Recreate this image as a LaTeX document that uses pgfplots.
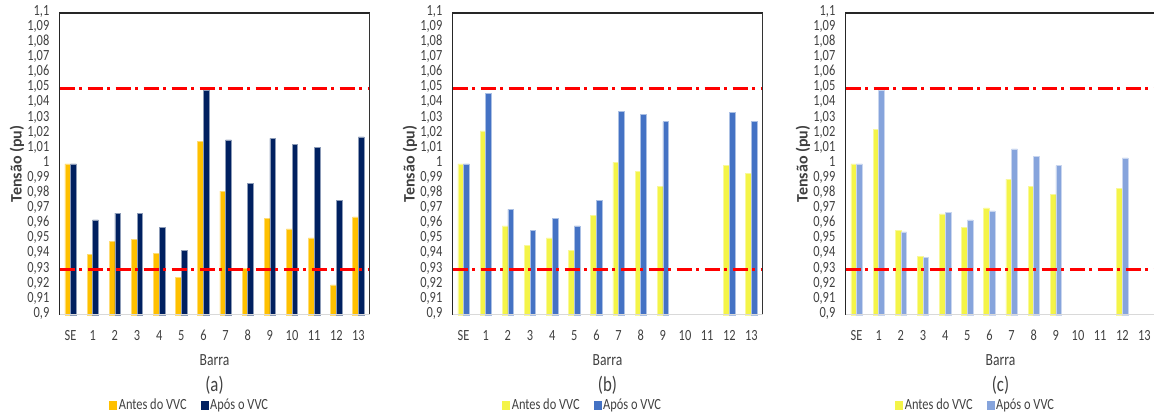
\documentclass[border=0pt]{standalone}
\usepackage{pgfplots}
\pgfplotsset{compat=1.18}
\usepackage{fontspec}
\setmainfont{Carlito}[FakeStretch=0.8]
\newfontfamily\ylabfont{Carlito}

\definecolor{txt}{HTML}{404040}
\definecolor{antesA}{HTML}{FFC000}
\definecolor{aposA}{HTML}{002060}
\definecolor{antesB}{HTML}{F4F448}
\definecolor{aposB}{HTML}{4472C4}
\definecolor{aposC}{HTML}{86A4DC}
\definecolor{limred}{HTML}{FF0000}

\pgfplotsset{
  vvcpanel/.style={
    scale only axis, width=310pt, height=302pt,
    xmin=-0.5, xmax=13.5, ymin=0.9, ymax=1.1,
    xtick={0,...,13}, xticklabels={SE,1,2,3,4,5,6,7,8,9,10,11,12,13},
    ytick={0.90,0.91,0.92,0.93,0.94,0.95,0.96,0.97,0.98,0.99,1.00,1.01,1.02,1.03,1.04,1.05,1.06,1.07,1.08,1.09,1.10},
    yticklabels={{0,9},{0,91},{0,92},{0,93},{0,94},{0,95},{0,96},{0,97},{0,98},{0,99},1,{1,01},{1,02},{1,03},{1,04},{1,05},{1,06},{1,07},{1,08},{1,09},{1,1}},
    major tick length=0pt,
    axis line style={draw=none},
    tick label style={font=\fontsize{15.5}{15.5}\selectfont, text=txt},
    xticklabel style={anchor=base, yshift=-25.5pt, inner sep=0pt},
    yticklabel style={anchor=mid east, xshift=-10pt, inner sep=0pt},
    xlabel={Barra},
    xlabel style={at={(axis description cs:0.5,-0.149)}, anchor=center,
      font=\fontsize{17}{17}\selectfont, text=txt},
    ylabel={Tensão (pu)},
    ylabel style={at={(axis description cs:-0.137,0.5)}, anchor=center,
      font=\ylabfont\bfseries\fontsize{16}{16}\selectfont, text=txt},
    legend style={draw=none, fill=none, at={(0.42,-0.298)}, anchor=center,
      legend columns=2, font=\fontsize{15.5}{15.5}\selectfont, text=txt,
      /tikz/every even column/.append style={column sep=12pt},
      nodes={inner xsep=2pt, inner ysep=1pt}},
    legend cell align=left,
    clip=false,
  },
  barA/.style={ybar, bar width=5.7pt, bar shift=-2.85pt, line width=0.5pt},
  barB/.style={ybar, bar width=5.7pt, bar shift=2.85pt, line width=0.5pt},
  limit/.style={limred, line width=2.8pt, dash pattern=on 15pt off 4.5pt on 3pt off 5.5pt, forget plot},
}

% frame of each panel: top and sides dark, base light grey
\newcommand{\panelframe}[1]{%
  \draw[black!85, line width=1.3pt] (rel axis cs:0,0) -- (rel axis cs:0,1) -- (rel axis cs:1,1);
  \ifnum#1=1 \draw[black!80, line width=1.3pt] (rel axis cs:1,1) -- (rel axis cs:1,0);\fi
  \draw[black!15, line width=1pt] (rel axis cs:0,0) -- (rel axis cs:1,0);
}

\begin{document}
\begin{tikzpicture}
\useasboundingbox (0,0) rectangle (1154pt,414pt);

% ---------- (a) ----------
\begin{axis}[vvcpanel, at={(59.5pt,99pt)}, anchor=south west]
\addplot[barA, fill=antesA, draw=antesA!55!white,
  legend image code/.code={\fill[antesA] (0pt,-4pt) rectangle (7pt,4pt);}]
  coordinates {(0,1.000) (1,0.940) (2,0.949) (3,0.950) (4,0.941) (5,0.925) (6,1.015)
               (7,0.982) (8,0.931) (9,0.964) (10,0.957) (11,0.951) (12,0.920) (13,0.965)};
\addlegendentry{Antes do VVC}
\addplot[barB, fill=aposA, draw=aposA!45!white,
  legend image code/.code={\fill[aposA] (0pt,-4pt) rectangle (7pt,4pt);}]
  coordinates {(0,1.000) (1,0.963) (2,0.9675) (3,0.9675) (4,0.958) (5,0.943) (6,1.049)
               (7,1.016) (8,0.987) (9,1.017) (10,1.013) (11,1.011) (12,0.976) (13,1.018)};
\addlegendentry{Após o VVC}
\addplot[limit] coordinates {(-0.5,1.05) (13.5,1.05)};
\addplot[limit] coordinates {(-0.5,0.93) (13.5,0.93)};
\panelframe{1}
\node[font=\fontsize{21}{21}\selectfont, text=txt] at (axis description cs:0.5,-0.232) {(a)};
\end{axis}

% ---------- (b) ----------
\begin{axis}[vvcpanel, at={(452.5pt,99pt)}, anchor=south west]
\addplot[barA, fill=antesB, draw=antesB!55!white,
  legend image code/.code={\fill[antesB] (0pt,-4pt) rectangle (7pt,4pt);}]
  coordinates {(0,1.000) (1,1.022) (2,0.959) (3,0.946) (4,0.951) (5,0.943) (6,0.966)
               (7,1.001) (8,0.995) (9,0.985) (12,0.999) (13,0.994)};
\addlegendentry{Antes do VVC}
\addplot[barB, fill=aposB, draw=aposB!45!white,
  legend image code/.code={\fill[aposB] (0pt,-4pt) rectangle (7pt,4pt);}]
  coordinates {(0,1.000) (1,1.047) (2,0.970) (3,0.956) (4,0.964) (5,0.959) (6,0.976)
               (7,1.035) (8,1.033) (9,1.028) (12,1.034) (13,1.028)};
\addlegendentry{Após o VVC}
\addplot[limit] coordinates {(-0.5,1.05) (13.5,1.05)};
\addplot[limit] coordinates {(-0.5,0.93) (13.5,0.93)};
\panelframe{1}
\node[font=\fontsize{21}{21}\selectfont, text=txt] at (axis description cs:0.5,-0.232) {(b)};
\end{axis}

% ---------- (c) ----------
\begin{axis}[vvcpanel, at={(845.5pt,99pt)}, anchor=south west]
\addplot[barA, fill=antesB, draw=antesB!55!white,
  legend image code/.code={\fill[antesB] (0pt,-4pt) rectangle (7pt,4pt);}]
  coordinates {(0,1.000) (1,1.023) (2,0.956) (3,0.939) (4,0.967) (5,0.958) (6,0.971)
               (7,0.990) (8,0.985) (9,0.980) (12,0.984)};
\addlegendentry{Antes do VVC}
\addplot[barB, fill=aposC, draw=aposC!45!white,
  legend image code/.code={\fill[aposC] (0pt,-4pt) rectangle (7pt,4pt);}]
  coordinates {(0,1.000) (1,1.049) (2,0.955) (3,0.938) (4,0.968) (5,0.963) (6,0.969)
               (7,1.010) (8,1.005) (9,0.999) (12,1.004)};
\addlegendentry{Após o VVC}
\addplot[limit] coordinates {(-0.5,1.05) (13.5,1.05)};
\addplot[limit] coordinates {(-0.5,0.93) (13.5,0.93)};
\panelframe{0}
\node[font=\fontsize{21}{21}\selectfont, text=txt] at (axis description cs:0.5,-0.232) {(c)};
\end{axis}
\end{tikzpicture}
\end{document}
